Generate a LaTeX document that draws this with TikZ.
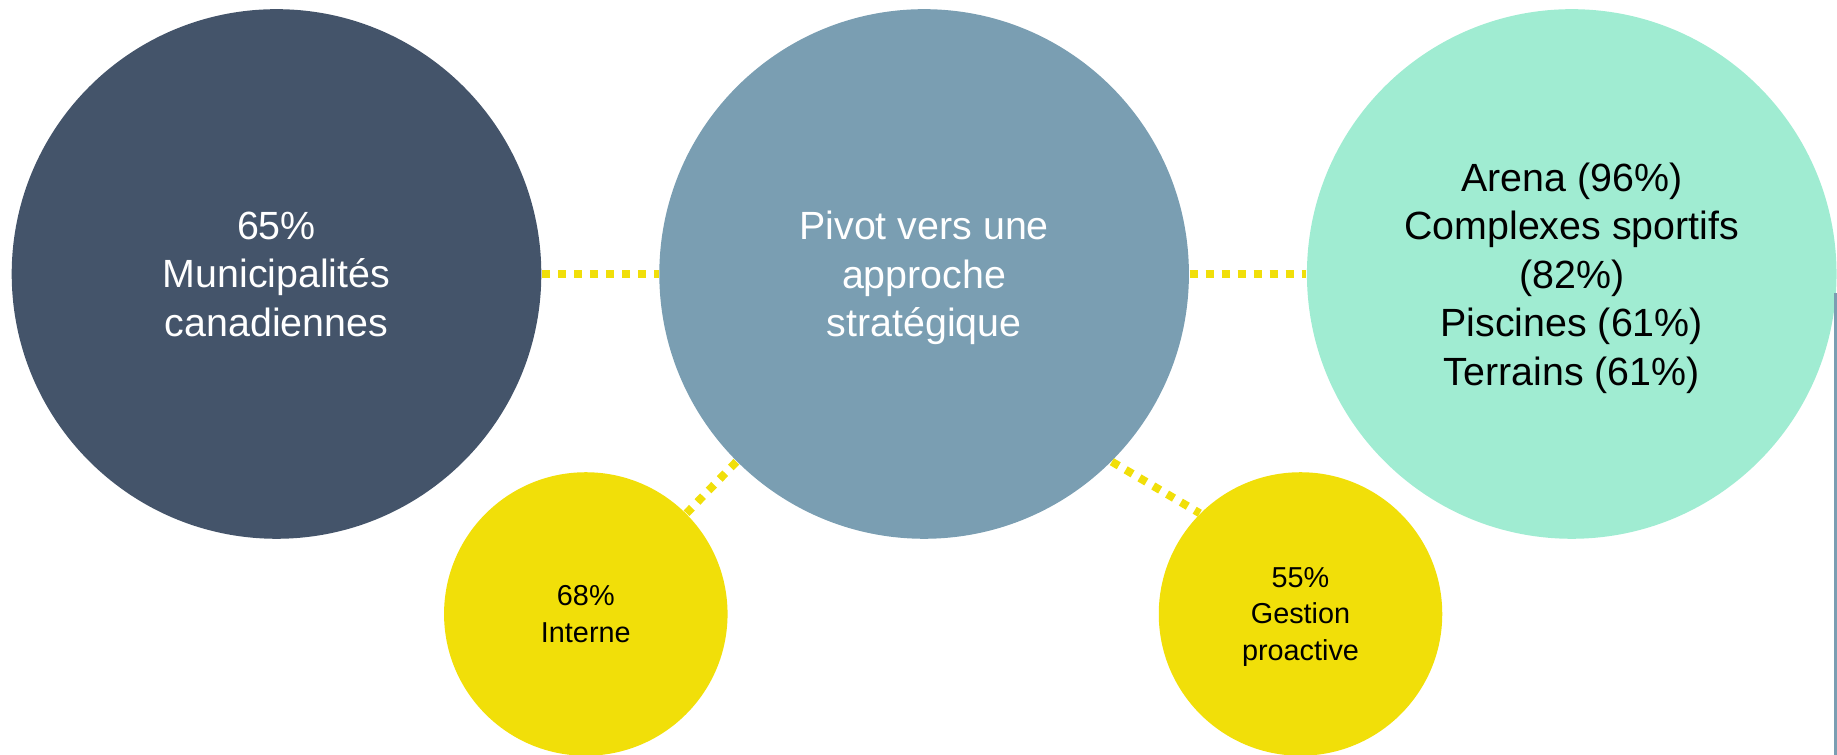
\documentclass[tikz,border=0pt]{standalone}
\usepackage{fontspec}
\setmainfont{Liberation Sans}
\usepackage{tikz}
\usetikzlibrary{positioning}
\definecolor{slate}{HTML}{44546A}
\definecolor{steel}{HTML}{7A9EB2}
\definecolor{mint}{HTML}{A0ECD2}
\definecolor{lemon}{HTML}{F1DF09}

\begin{document}
\begin{tikzpicture}[x=1mm, y=1mm, node distance=11.66mm,
    big/.style={circle, minimum size=52.96mm, inner sep=0pt, align=center, text depth=0pt,
      font=\fontsize{11.2}{13.8}\selectfont},
    small/.style={circle, fill=lemon, minimum size=28.35mm, inner sep=0pt, align=center, text depth=0pt,
      font=\fontsize{8.2}{10.4}\selectfont},
    dots/.style={draw=lemon, line width=0.8mm, dash pattern=on 0.8mm off 0.8mm}]
  \useasboundingbox (0,0) rectangle (183.7,75.5);

  \node[big, fill=slate, text=white] (muni) at (27.65,48.1) {65\%\\Municipalités\\canadiennes};
  \node[big, fill=steel, text=white, right=of muni] (pivot) {Pivot vers une\\approche\\stratégique};
  \node[big, fill=mint, right=of pivot] (sports) {Arena (96\%)\\Complexes sportifs\\(82\%)\\Piscines (61\%)\\Terrains (61\%)};
  \node[small] (interne) at (58.58,14.1) {68\%\\Interne};
  \node[small] (proactive) at (130.05,14.1) {55\%\\Gestion\\proactive};

  \draw[dots] (muni) -- (pivot);
  \draw[dots] (pivot) -- (sports);
  \draw[dots] (pivot.225) -- (interne.45);
  \draw[dots] (pivot.-45) -- (proactive.135);

  % thin rule on the right edge
  \draw[steel, line width=0.27mm] (183.55,0) -- (183.55,46.2);
\end{tikzpicture}
\end{document}
